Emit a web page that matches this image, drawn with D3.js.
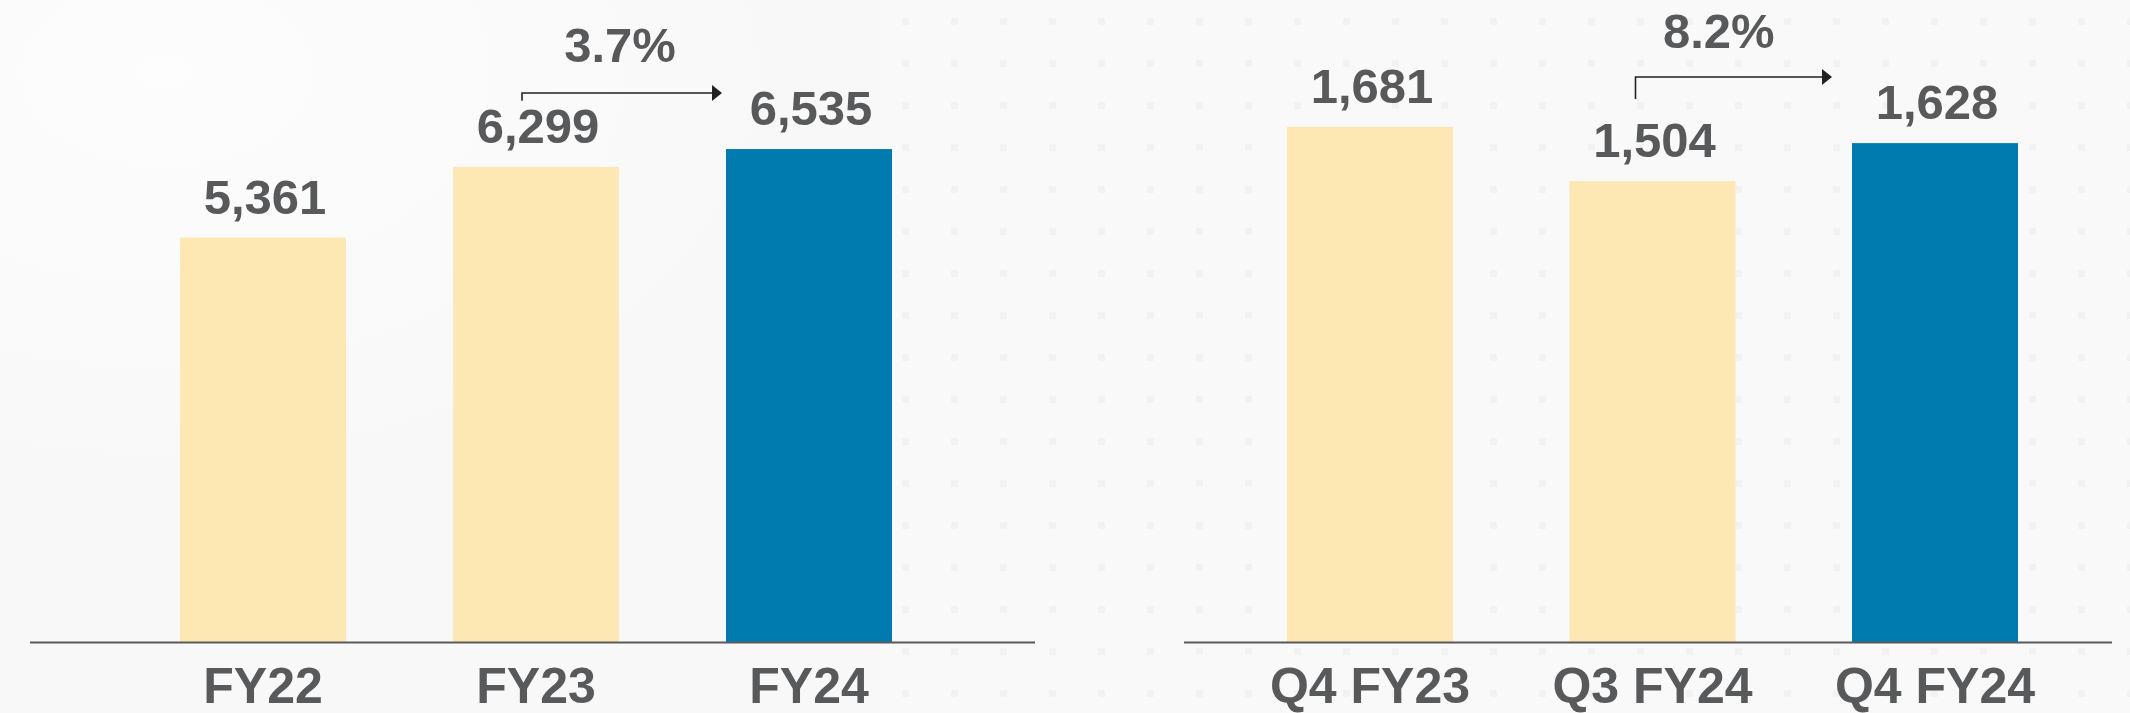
<!DOCTYPE html>
<html>
<head>
<meta charset="utf-8">
<script src="https://cdn.jsdelivr.net/npm/d3@7/dist/d3.min.js"></script>
<style>
  html, body { margin: 0; padding: 0; background: #f8f8f8; }
  svg { display: block; }
  text { font-family: "Liberation Sans", Arial, Helvetica, sans-serif; font-weight: bold; }
</style>
</head>
<body>
<svg id="chart" width="2130" height="713"></svg>
<script>
// ---- data ----
const annualCategories = ["FY22", "FY23", "FY24"];
const annualValues = [5361, 6299, 6535];
const annualGrowth = { from: "FY23", to: "FY24", label: "3.7%" };

const quarterCategories = ["Q4 FY23", "Q3 FY24", "Q4 FY24"];
const quarterValues = [1681, 1504, 1628];
const quarterGrowth = { from: "Q3 FY24", to: "Q4 FY24", label: "8.2%" };

// ---- styling / layout ----
const W = 2130, H = 713;
const baseY = 642;
const textColor = "#58595b";
const pastColor = "#fde8b3";
const currentColor = "#007bb0";
const fmt = d3.format(",");

const svg = d3.select("#chart");

// background with faint dot grid
const defs = svg.append("defs");
const pat = defs.append("pattern").attr("id", "dots")
  .attr("patternUnits", "userSpaceOnUse").attr("width", 49).attr("height", 42);
pat.append("rect").attr("width", 49).attr("height", 42).attr("fill", "#f9f9f9");
pat.append("rect").attr("x", 20).attr("y", 18).attr("width", 7).attr("height", 7).attr("fill", "#f2f2f2");
const grad = defs.append("radialGradient").attr("id", "glow").attr("cx", "0.15").attr("cy", "0.1").attr("r", "0.6");
grad.append("stop").attr("offset", "0").attr("stop-color", "#ffffff").attr("stop-opacity", 0.7);
grad.append("stop").attr("offset", "1").attr("stop-color", "#ffffff").attr("stop-opacity", 0);

svg.append("rect").attr("width", W).attr("height", H).attr("fill", "#f8f8f8");
svg.append("rect").attr("x", 880).attr("width", W - 880).attr("height", H).attr("fill", "url(#dots)");
svg.append("rect").attr("width", 1100).attr("height", H).attr("fill", "url(#glow)");

function panel(cfg) {
  const { categories, values, growth } = cfg;
  const x = d3.scaleBand().domain(categories)
    .range(cfg.barRange).paddingInner(cfg.paddingInner).paddingOuter(0);
  const y = d3.scaleLinear().domain([0, cfg.yMax]).range([baseY, 0]);
  const g = svg.append("g");
  const data = categories.map((c, i) => ({ c, v: values[i], last: i === categories.length - 1 }));

  g.selectAll("rect.bar").data(data).join("rect")
    .attr("class", "bar")
    .attr("x", d => x(d.c))
    .attr("y", d => y(d.v))
    .attr("width", x.bandwidth())
    .attr("height", d => baseY - y(d.v))
    .attr("fill", d => d.last ? currentColor : pastColor);

  // baseline
  g.append("line")
    .attr("x1", cfg.lineRange[0]).attr("x2", cfg.lineRange[1])
    .attr("y1", baseY + 0.5).attr("y2", baseY + 0.5)
    .attr("stroke", "#5a5a5a").attr("stroke-width", 2);

  // value labels
  g.selectAll("text.val").data(data).join("text")
    .attr("class", "val")
    .attr("x", d => x(d.c) + x.bandwidth() / 2 + 2)
    .attr("y", d => y(d.v) - 24)
    .attr("text-anchor", "middle")
    .attr("fill", textColor)
    .style("font-size", "49px")
    .text(d => fmt(d.v));

  // category axis
  const ax = g.append("g").attr("transform", `translate(0,${baseY})`)
    .call(d3.axisBottom(x).tickSize(0).tickPadding(25));
  ax.select(".domain").remove();
  ax.selectAll("text")
    .attr("fill", textColor)
    .style("font-size", "50px")
    .style("font-family", '"Liberation Sans", Arial, Helvetica, sans-serif')
    .style("font-weight", "bold");

  // growth annotation
  const fromV = values[categories.indexOf(growth.from)];
  const fromLabelTop = y(fromV) - 24 - 36;
  const x0 = x(growth.from) + x.bandwidth() / 2 + cfg.ann.startOffset;
  const x1 = x(growth.to) + cfg.ann.endOffset;
  const ly = cfg.ann.lineY;
  const yBottom = Math.min(cfg.ann.bottomY, fromLabelTop - 6);
  g.append("path")
    .attr("d", `M${x0},${yBottom}V${ly}H${x1 - 10}`)
    .attr("fill", "none").attr("stroke", "#222").attr("stroke-width", 1.6);
  g.append("path")
    .attr("d", `M${x1 - 10},${ly - 8}L${x1},${ly}L${x1 - 10},${ly + 8}Z`)
    .attr("fill", "#222");
  g.append("text")
    .attr("x", (x0 + x1) / 2 + cfg.ann.textShift)
    .attr("y", cfg.ann.textY)
    .attr("text-anchor", "middle")
    .attr("fill", textColor)
    .style("font-size", "49px")
    .text(growth.label);
}

panel({
  categories: annualCategories, values: annualValues, growth: annualGrowth,
  barRange: [180, 892], paddingInner: 0.392, yMax: 8511,
  lineRange: [30, 1035],
  ann: { startOffset: -14, endOffset: -4, lineY: 93, bottomY: 117, textY: 62, textShift: -2 }
});

panel({
  categories: quarterCategories, values: quarterValues, growth: quarterGrowth,
  barRange: [1287, 2018], paddingInner: 0.4124, yMax: 2095,
  lineRange: [1184, 2112],
  ann: { startOffset: -17, endOffset: -20, lineY: 77, bottomY: 99, textY: 48, textShift: -15 }
});
</script>
</body>
</html>
